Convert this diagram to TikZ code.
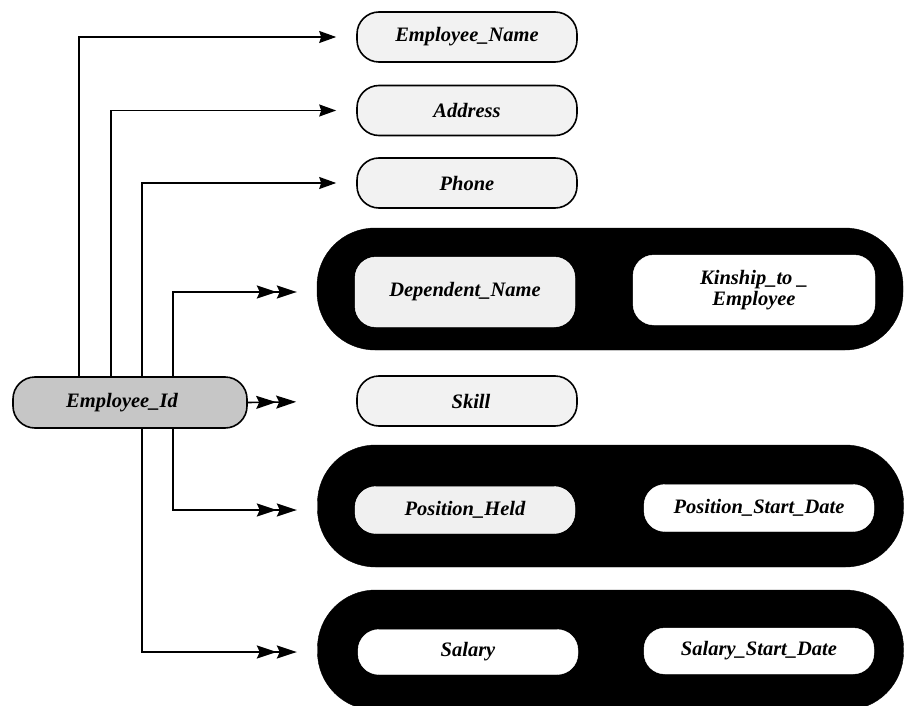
\documentclass[tikz,border=0pt]{standalone}
\usepackage{fontspec}
\setmainfont{Liberation Serif}
\usetikzlibrary{arrows.meta}
\begin{document}
\begin{tikzpicture}[x=1pt,y=-1pt,
  lbl/.style={font=\fontsize{20.5}{21}\selectfont\bfseries\itshape, align=center},
  attr/.style={lbl, draw=black, line width=1.6pt, rounded corners=22pt, fill=gray!10, minimum width=220pt, minimum height=50pt, inner sep=0pt},
  keybox/.style={lbl, draw=black, line width=1.6pt, rounded corners=22pt, fill=gray!45, minimum width=234pt, minimum height=51pt, inner sep=0pt},
  pill/.style={fill=black, draw=black, rounded corners=58pt, minimum width=586pt, inner sep=0pt},
  inner/.style={lbl, fill=white, draw=white, rounded corners=21pt, inner sep=0pt},
  conn/.style={line width=1.6pt},
  one/.style={conn, -{Stealth[length=17pt,width=12pt,inset=2pt]}},
  two/.style={conn, -{Stealth[length=20pt,width=13pt,inset=3pt]Stealth[length=20pt,width=13pt,inset=3pt]}}
]
\useasboundingbox (0,0) rectangle (905,706);
\fill[white] (0,0) rectangle (905,706);

% simple attributes
\node[attr] (ename) at (467,37) {Employee\_Name};
\node[attr] (addr)  at (467,110.5) {Address};
\node[attr] (phone) at (467,183) {Phone};
\node[attr] (skill) at (467,401) {\hspace*{8pt}Skill};

% key
\node[keybox] (eid) at (130,402.5) {Employee\_Id\hspace*{16pt}};

% multivalued groups
\node[pill, minimum height=122pt] (p1) at (610,289) {};
\node[inner, fill=gray!12, minimum width=220pt, minimum height=70pt] (dep) at (465,292) {Dependent\_Name};
\node[inner, minimum width=242pt, minimum height=70pt] (kin) at (754,290) {Kinship\_to \_\\Employee};

\node[pill, minimum height=122pt] (p2) at (610.5,506) {};
\node[inner, fill=gray!12, minimum width=220pt, minimum height=47pt] (pos) at (465,510) {Position\_Held};
\node[inner, minimum width=230pt, minimum height=47pt] (psd) at (759,508) {Position\_Start\_Date};

\node[pill, minimum height=120pt] (p3) at (610.5,650) {};
\node[inner, minimum width=220pt, minimum height=45pt] (sal) at (468,652) {Salary};
\node[inner, minimum width=230pt, minimum height=46pt] (ssd) at (759,651) {Salary\_Start\_Date};

% connector x positions
\coordinate (c1) at (79,0);
\coordinate (c2) at (111,0);
\coordinate (c3) at (142,0);
\coordinate (c4) at (173,0);

\draw[one, shorten >=20pt] (eid.north -| c1) |- (ename.west);
\draw[one, shorten >=20pt] (eid.north -| c2) |- (addr.west);
\draw[one, shorten >=20pt] (eid.north -| c3) |- (phone.west);
\draw[two, shorten >=58pt] (eid.north -| c4) |- (dep.west);
\draw[two, shorten >=60pt] (eid.east) -- (skill.west);
\draw[two, shorten >=58pt] (eid.south -| c4) |- (pos.west);
\draw[two, shorten >=61pt] (eid.south -| c3) |- (sal.west);
\end{tikzpicture}
\end{document}
